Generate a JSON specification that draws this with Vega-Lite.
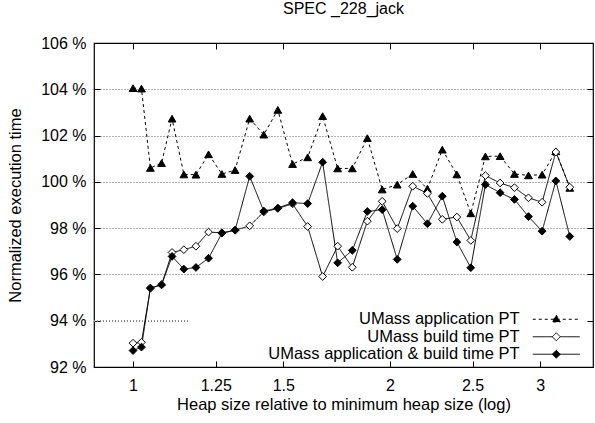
{
  "$schema": "https://vega.github.io/schema/vega-lite/v6.json",
  "autosize": "none",
  "width": 499,
  "height": 324,
  "padding": {"left": 94, "top": 43, "right": 2, "bottom": 56},
  "background": "white",
  "title": {"text": "SPEC _228_jack", "font": "Liberation Sans", "fontSize": 16, "fontWeight": "normal", "color": "black", "anchor": "middle", "offset": 18},
  "config": {
    "view": {"stroke": "black", "strokeWidth": 1.2},
    "axis": {"labelFont": "Liberation Sans", "labelFontSize": 16, "labelColor": "black", "titleFont": "Liberation Sans", "titleFontSize": 16.5, "titleFontWeight": "normal", "titleColor": "black", "tickColor": "black", "tickWidth": 1}
  },
  "datasets": {
    "pts": [
      {"x": 1.0, "y": 104.05, "s": "UMass application PT"},
      {"x": 1.023, "y": 104.03, "s": "UMass application PT"},
      {"x": 1.048, "y": 100.6, "s": "UMass application PT"},
      {"x": 1.08, "y": 100.81, "s": "UMass application PT"},
      {"x": 1.111, "y": 102.73, "s": "UMass application PT"},
      {"x": 1.147, "y": 100.32, "s": "UMass application PT"},
      {"x": 1.185, "y": 100.31, "s": "UMass application PT"},
      {"x": 1.226, "y": 101.19, "s": "UMass application PT"},
      {"x": 1.271, "y": 100.34, "s": "UMass application PT"},
      {"x": 1.317, "y": 100.51, "s": "UMass application PT"},
      {"x": 1.37, "y": 102.73, "s": "UMass application PT"},
      {"x": 1.423, "y": 102.04, "s": "UMass application PT"},
      {"x": 1.478, "y": 103.11, "s": "UMass application PT"},
      {"x": 1.538, "y": 100.77, "s": "UMass application PT"},
      {"x": 1.602, "y": 101.06, "s": "UMass application PT"},
      {"x": 1.668, "y": 102.84, "s": "UMass application PT"},
      {"x": 1.737, "y": 100.58, "s": "UMass application PT"},
      {"x": 1.807, "y": 100.58, "s": "UMass application PT"},
      {"x": 1.882, "y": 101.89, "s": "UMass application PT"},
      {"x": 1.959, "y": 99.67, "s": "UMass application PT"},
      {"x": 2.04, "y": 99.88, "s": "UMass application PT"},
      {"x": 2.127, "y": 100.34, "s": "UMass application PT"},
      {"x": 2.213, "y": 99.7, "s": "UMass application PT"},
      {"x": 2.304, "y": 101.39, "s": "UMass application PT"},
      {"x": 2.396, "y": 100.32, "s": "UMass application PT"},
      {"x": 2.488, "y": 98.64, "s": "UMass application PT"},
      {"x": 2.588, "y": 101.1, "s": "UMass application PT"},
      {"x": 2.693, "y": 101.11, "s": "UMass application PT"},
      {"x": 2.799, "y": 100.34, "s": "UMass application PT"},
      {"x": 2.907, "y": 100.28, "s": "UMass application PT"},
      {"x": 3.016, "y": 100.31, "s": "UMass application PT"},
      {"x": 3.13, "y": 101.32, "s": "UMass application PT"},
      {"x": 3.25, "y": 99.74, "s": "UMass application PT"},
      {"x": 1.0, "y": 93.03, "s": "UMass build time PT"},
      {"x": 1.023, "y": 93.07, "s": "UMass build time PT"},
      {"x": 1.048, "y": 95.41, "s": "UMass build time PT"},
      {"x": 1.08, "y": 95.55, "s": "UMass build time PT"},
      {"x": 1.111, "y": 96.95, "s": "UMass build time PT"},
      {"x": 1.147, "y": 97.07, "s": "UMass build time PT"},
      {"x": 1.185, "y": 97.22, "s": "UMass build time PT"},
      {"x": 1.226, "y": 97.83, "s": "UMass build time PT"},
      {"x": 1.271, "y": 97.8, "s": "UMass build time PT"},
      {"x": 1.317, "y": 97.91, "s": "UMass build time PT"},
      {"x": 1.37, "y": 98.1, "s": "UMass build time PT"},
      {"x": 1.423, "y": 98.7, "s": "UMass build time PT"},
      {"x": 1.478, "y": 98.85, "s": "UMass build time PT"},
      {"x": 1.538, "y": 99.05, "s": "UMass build time PT"},
      {"x": 1.602, "y": 98.07, "s": "UMass build time PT"},
      {"x": 1.668, "y": 95.91, "s": "UMass build time PT"},
      {"x": 1.737, "y": 97.22, "s": "UMass build time PT"},
      {"x": 1.807, "y": 96.31, "s": "UMass build time PT"},
      {"x": 1.882, "y": 98.3, "s": "UMass build time PT"},
      {"x": 1.959, "y": 99.16, "s": "UMass build time PT"},
      {"x": 2.04, "y": 97.98, "s": "UMass build time PT"},
      {"x": 2.127, "y": 99.81, "s": "UMass build time PT"},
      {"x": 2.213, "y": 99.5, "s": "UMass build time PT"},
      {"x": 2.304, "y": 98.38, "s": "UMass build time PT"},
      {"x": 2.396, "y": 98.48, "s": "UMass build time PT"},
      {"x": 2.488, "y": 97.47, "s": "UMass build time PT"},
      {"x": 2.588, "y": 100.27, "s": "UMass build time PT"},
      {"x": 2.693, "y": 99.95, "s": "UMass build time PT"},
      {"x": 2.799, "y": 99.75, "s": "UMass build time PT"},
      {"x": 2.907, "y": 99.31, "s": "UMass build time PT"},
      {"x": 3.016, "y": 99.12, "s": "UMass build time PT"},
      {"x": 3.13, "y": 101.29, "s": "UMass build time PT"},
      {"x": 3.25, "y": 99.77, "s": "UMass build time PT"},
      {"x": 1.0, "y": 92.71, "s": "UMass application & build time PT"},
      {"x": 1.023, "y": 92.86, "s": "UMass application & build time PT"},
      {"x": 1.048, "y": 95.41, "s": "UMass application & build time PT"},
      {"x": 1.08, "y": 95.55, "s": "UMass application & build time PT"},
      {"x": 1.111, "y": 96.78, "s": "UMass application & build time PT"},
      {"x": 1.147, "y": 96.23, "s": "UMass application & build time PT"},
      {"x": 1.185, "y": 96.3, "s": "UMass application & build time PT"},
      {"x": 1.226, "y": 96.7, "s": "UMass application & build time PT"},
      {"x": 1.271, "y": 97.78, "s": "UMass application & build time PT"},
      {"x": 1.317, "y": 97.91, "s": "UMass application & build time PT"},
      {"x": 1.37, "y": 100.24, "s": "UMass application & build time PT"},
      {"x": 1.423, "y": 98.74, "s": "UMass application & build time PT"},
      {"x": 1.478, "y": 98.87, "s": "UMass application & build time PT"},
      {"x": 1.538, "y": 99.1, "s": "UMass application & build time PT"},
      {"x": 1.602, "y": 99.06, "s": "UMass application & build time PT"},
      {"x": 1.668, "y": 100.85, "s": "UMass application & build time PT"},
      {"x": 1.737, "y": 96.5, "s": "UMass application & build time PT"},
      {"x": 1.807, "y": 97.04, "s": "UMass application & build time PT"},
      {"x": 1.882, "y": 98.72, "s": "UMass application & build time PT"},
      {"x": 1.959, "y": 98.8, "s": "UMass application & build time PT"},
      {"x": 2.04, "y": 96.65, "s": "UMass application & build time PT"},
      {"x": 2.127, "y": 98.95, "s": "UMass application & build time PT"},
      {"x": 2.213, "y": 98.19, "s": "UMass application & build time PT"},
      {"x": 2.304, "y": 99.38, "s": "UMass application & build time PT"},
      {"x": 2.396, "y": 97.4, "s": "UMass application & build time PT"},
      {"x": 2.488, "y": 96.29, "s": "UMass application & build time PT"},
      {"x": 2.588, "y": 99.88, "s": "UMass application & build time PT"},
      {"x": 2.693, "y": 99.53, "s": "UMass application & build time PT"},
      {"x": 2.799, "y": 99.24, "s": "UMass application & build time PT"},
      {"x": 2.907, "y": 98.5, "s": "UMass application & build time PT"},
      {"x": 3.016, "y": 97.87, "s": "UMass application & build time PT"},
      {"x": 3.13, "y": 100.04, "s": "UMass application & build time PT"},
      {"x": 3.25, "y": 97.64, "s": "UMass application & build time PT"}
    ]
  },
  "data": {"name": "pts"},
  "resolve": {"scale": {"shape": "independent", "fill": "independent", "strokeDash": "independent", "stroke": "independent"}},
  "layer": [
    {
      "mark": {"type": "rule", "stroke": "#8a8a8a", "strokeWidth": 1, "strokeDash": [1, 2]},
      "encoding": {
        "x": {"datum": 0.9, "type": "quantitative", "scale": {"type": "log", "domain": [0.9, 3.46], "nice": false}, "axis": null},
        "x2": {"datum": 1.16},
        "y": {"datum": 94, "type": "quantitative", "scale": {"domain": [92, 106], "nice": false, "zero": false}, "axis": null}
      }
    },
    {
      "mark": {"type": "line", "stroke": "black", "strokeWidth": 1, "clip": true},
      "encoding": {
        "x": {"field": "x", "type": "quantitative",
          "scale": {"type": "log", "domain": [0.9, 3.46], "nice": false},
          "axis": {"orient": "bottom", "values": [1, 1.25, 1.5, 2, 2.5, 3], "format": "~g", "tickSize": -6, "labelPadding": 16, "domain": false, "grid": false, "title": "Heap size relative to minimum heap size (log)", "titlePadding": 3}},
        "y": {"field": "y", "type": "quantitative",
          "scale": {"domain": [92, 106], "nice": false, "zero": false},
          "axis": {"orient": "left", "values": [92, 94, 96, 98, 100, 102, 104, 106], "labelExpr": "datum.value + ' %'", "tickSize": -6, "labelPadding": 14, "domain": false, "grid": true, "gridColor": "black", "gridDash": [1, 2], "gridOpacity": {"condition": {"test": "datum.value === 94 || datum.value === 92 || datum.value === 106", "value": 0}, "value": 0.6}, "title": "Normalized execution time", "titlePadding": 17}},
        "strokeDash": {"field": "s", "type": "nominal",
          "scale": {"domain": ["UMass application PT", "UMass build time PT", "UMass application & build time PT"], "range": [[3, 3], [1, 0], [1, 0]]},
          "legend": null}
      }
    },
    {
      "mark": {"type": "point", "stroke": "black", "strokeWidth": 1, "opacity": 1, "filled": true},
      "encoding": {
        "x": {"field": "x", "type": "quantitative",
          "axis": {"orient": "top", "values": [1, 1.25, 1.5, 2, 2.5, 3], "labels": false, "tickSize": -6, "domain": false, "grid": false, "title": null}},
        "y": {"field": "y", "type": "quantitative",
          "axis": {"orient": "right", "values": [92, 94, 96, 98, 100, 102, 104, 106], "labels": false, "tickSize": -6, "domain": false, "grid": false, "title": null}},
        "shape": {"field": "s", "type": "nominal",
          "scale": {"domain": ["UMass application PT", "UMass build time PT", "UMass application & build time PT"], "range": ["triangle-up", "diamond", "diamond"]},
          "legend": null},
        "fill": {"field": "s", "type": "nominal",
          "scale": {"domain": ["UMass application PT", "UMass build time PT", "UMass application & build time PT"], "range": ["black", "white", "black"]},
          "legend": null},
        "size": {"value": 60}
      }
    },
    {
      "transform": [{"filter": "false"}],
      "mark": {"type": "point", "strokeWidth": 1, "filled": true, "opacity": 1},
      "encoding": {
        "shape": {"field": "s", "type": "nominal",
          "scale": {"domain": ["UMass application PT", "UMass build time PT", "UMass application & build time PT"],
            "range": ["M-4.7,0H4.7M0,-0.85L0.8,0.55L-0.8,0.55Z", "M-4.7,0H-0.8M0.8,0H4.7M0,-0.8L0.8,0L0,0.8L-0.8,0Z", "M-4.7,0H4.7M0,-0.8L0.8,0L0,0.8L-0.8,0Z"]},
          "legend": {"orient": "none", "legendX": 454, "legendY": 268, "title": null, "padding": 0,
            "symbolSize": 100, "symbolStrokeWidth": 1, "symbolOpacity": 1,
            "labelFont": "Liberation Sans", "labelFontSize": 16.5, "labelColor": "black", "labelAlign": "right", "labelOffset": -45, "labelLimit": 0, "rowPadding": 0.5}},
        "fill": {"field": "s", "type": "nominal",
          "scale": {"domain": ["UMass application PT", "UMass build time PT", "UMass application & build time PT"], "range": ["black", "white", "black"]}},
        "stroke": {"field": "s", "type": "nominal",
          "scale": {"domain": ["UMass application PT", "UMass build time PT", "UMass application & build time PT"], "range": ["black", "black", "black"]}},
        "strokeDash": {"field": "s", "type": "nominal",
          "scale": {"domain": ["UMass application PT", "UMass build time PT", "UMass application & build time PT"], "range": [[3, 3], [1, 0], [1, 0]]}}
      }
    }
  ]
}
